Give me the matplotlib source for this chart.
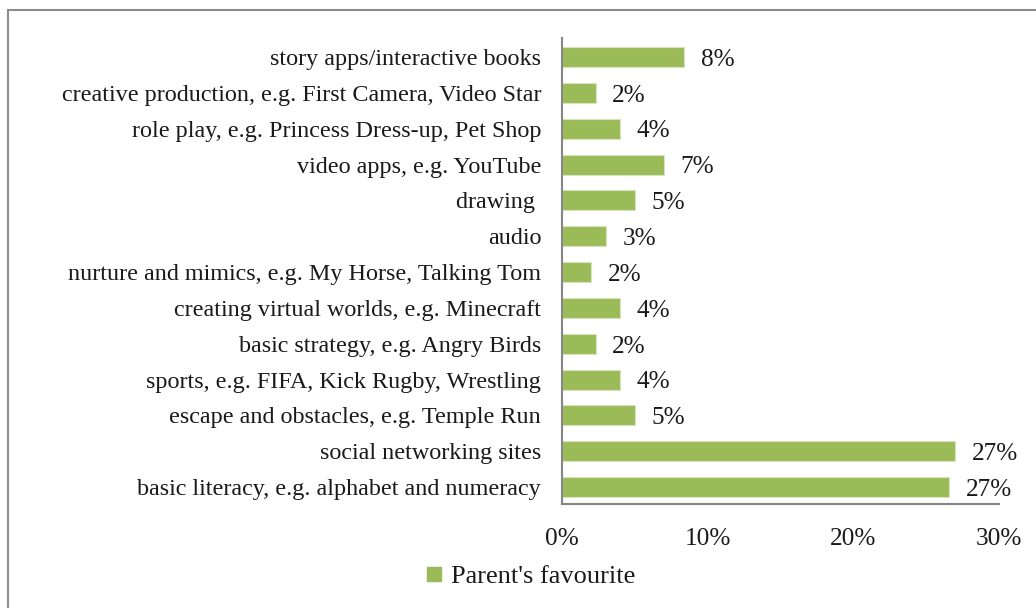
import matplotlib
matplotlib.use("Agg")
import matplotlib.pyplot as plt
from matplotlib.patches import Rectangle
from matplotlib.lines import Line2D

plt.rcParams["font.family"] = ["Liberation Serif", "DejaVu Serif"]

categories = [
    "story apps/interactive books",
    "creative production, e.g. First Camera, Video Star",
    "role play, e.g. Princess Dress-up, Pet Shop",
    "video apps, e.g. YouTube",
    "drawing ",
    "audio",
    "nurture and mimics, e.g. My Horse, Talking Tom",
    "creating virtual worlds, e.g. Minecraft",
    "basic strategy, e.g. Angry Birds",
    "sports, e.g. FIFA, Kick Rugby, Wrestling",
    "escape and obstacles, e.g. Temple Run",
    "social networking sites",
    "basic literacy, e.g. alphabet and numeracy",
]
values = [8.4, 2.3, 4.0, 7.0, 5.0, 3.0, 2.0, 4.0, 2.3, 4.0, 5.0, 27.0, 26.6]
xticks = [0, 10, 20, 30]
xtick_labels = ["0%", "10%", "20%", "30%"]
series_name = "Parent's favourite"

bar_color = "#9BBB59"
axis_color = "#868686"
text_color = "#1a1a1a"
fs_cat = 17.4
fs_val = 18.2
fs_leg = 19

W, H = 1036, 608
fig = plt.figure(figsize=(W / 100, H / 100), dpi=100)
ax = fig.add_axes([562 / W, 1 - 504 / H, (999 - 562) / W, (504 - 38) / H])

n = len(categories)
ypos = list(range(n - 1, -1, -1))
ax.barh(ypos, values, height=0.56, color=bar_color, edgecolor="#d7e4bd", linewidth=0.8)

for y, v in zip(ypos, values):
    ax.annotate(f"{round(v):d}%", xy=(v, y), xytext=(12, -2), textcoords="offset points",
                ha="left", va="center", fontsize=fs_val, color=text_color)

ax.set_xlim(0, 30)
ax.set_ylim(-0.47, n - 0.47)
ax.set_yticks(ypos)
ax.set_yticklabels(categories, fontsize=fs_cat, color=text_color)
ax.set_xticks(xticks)
ax.set_xticklabels(xtick_labels, fontsize=fs_val, color=text_color)
ax.tick_params(axis="both", length=0)
ax.tick_params(axis="y", pad=15)
ax.tick_params(axis="x", pad=17)

for side in ("top", "right"):
    ax.spines[side].set_visible(False)
for side in ("left", "bottom"):
    ax.spines[side].set_color(axis_color)
    ax.spines[side].set_linewidth(1.5)

handle = Line2D([], [], marker="s", linestyle="none", markersize=10,
                markerfacecolor=bar_color, markeredgecolor=bar_color)
fig.legend([handle], [series_name], loc="center", bbox_to_anchor=(530 / W, 1 - 576 / H),
           frameon=False, fontsize=fs_leg, handlelength=0.7, handletextpad=0.3,
           borderaxespad=0, labelcolor=text_color)

# outer chart frame
fig.add_artist(Rectangle((8 / W, -0.05), 1.1, 1 - 10 / H + 0.05, transform=fig.transFigure,
                         fill=False, edgecolor="#8c8c8c", linewidth=1.5, clip_on=False))

fig.savefig("out.png", dpi=100, facecolor="white")
